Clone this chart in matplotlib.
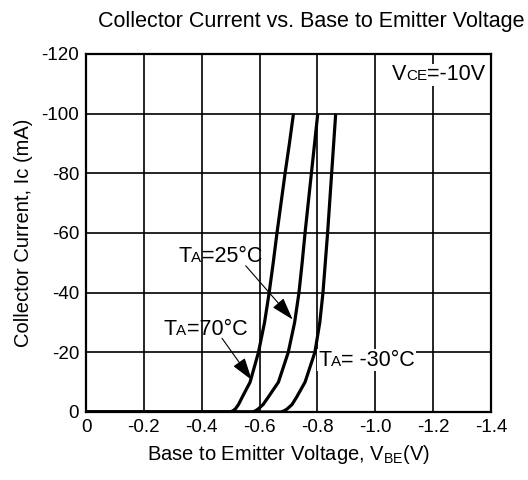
import matplotlib
matplotlib.use('Agg')
import matplotlib.pyplot as plt
from matplotlib.offsetbox import TextArea, HPacker, AnnotationBbox

plt.rcParams['font.family'] = ['Liberation Sans', 'DejaVu Sans']
plt.rcParams['mathtext.fontset'] = 'custom'
plt.rcParams['mathtext.rm'] = 'Liberation Sans'

# data (V_BE in V, Ic in mA)
ic_pts = [0, -0.4, -1, -2.5, -5, -10, -20, -30, -40, -50, -60, -70, -80, -90, -100]
vbe_70 = [-0.498, -0.508, -0.516, -0.527, -0.540, -0.567, -0.596, -0.617, -0.633, -0.647, -0.660, -0.674, -0.688, -0.703, -0.717]
vbe_25 = [-0.576, -0.586, -0.595, -0.612, -0.630, -0.665, -0.699, -0.721, -0.736, -0.747, -0.757, -0.768, -0.779, -0.790, -0.801]
vbe_m30 = [-0.674, -0.685, -0.695, -0.712, -0.728, -0.757, -0.791, -0.808, -0.819, -0.827, -0.835, -0.842, -0.849, -0.856, -0.863]

x_ticks = [0, -0.2, -0.4, -0.6, -0.8, -1.0, -1.2, -1.4]
x_labels = ['0', '-0.2', '-0.4', '-0.6', '-0.8', '-1.0', '-1.2', '-1.4']
y_ticks = [0, -20, -40, -60, -80, -100, -120]
y_labels = ['0', '-20', '-40', '-60', '-80', '-100', '-120']

fig = plt.figure(figsize=(5.28, 4.80), dpi=100)
ax = fig.add_axes([0.163, 0.1417, 0.767, 0.746])

for v in (vbe_70, vbe_25, vbe_m30):
    # flat part along the axis from 0 V, then the rising curve
    ax.plot([0] + v, [0] + ic_pts, color='black', lw=2.3, solid_capstyle='butt',
            solid_joinstyle='round')

ax.set_xlim(0, -1.4)
ax.set_ylim(0, -120)
ax.set_xticks(x_ticks)
ax.set_xticklabels(x_labels)
ax.set_yticks(y_ticks)
ax.set_yticklabels(y_labels)
ax.tick_params(length=0, labelsize=13.5, pad=5)
ax.grid(True, color='black', lw=1.2)
ax.set_axisbelow(True)
for s in ax.spines.values():
    s.set_linewidth(1.6)

ax.set_xlabel('Base to Emitter Voltage, V$_{\\mathrm{BE}}$(V)', fontsize=14.5, labelpad=5)
ax.set_ylabel('Collector Current, Ic (mA)', fontsize=14.5, labelpad=6)
fig.text(0.589, 0.955, 'Collector Current vs. Base to Emitter Voltage', fontsize=15.5,
         ha='center', va='center')


def small_caps_label(main, sub, rest, xy, bg=False):
    parts = [TextArea(main, textprops=dict(fontsize=15.5)),
             TextArea(sub, textprops=dict(fontsize=11)),
             TextArea(rest, textprops=dict(fontsize=15.5))]
    box = HPacker(children=parts, align='baseline', pad=0, sep=0)
    ab = AnnotationBbox(box, xy, xycoords='data', frameon=bg, box_alignment=(0, 0.5),
                        pad=0.05, bboxprops=dict(fc='white', ec='none'))
    ax.add_artist(ab)


small_caps_label('V', 'CE', '=-10V', (-1.057, -113), bg=True)
small_caps_label('T', 'A', '=25°C', (-0.319, -52))
small_caps_label('T', 'A', '=70°C', (-0.267, -27.5))
small_caps_label('T', 'A', '= -30°C', (-0.802, -17.4), bg=True)

arrow = dict(arrowstyle='-|>,head_length=0.7,head_width=0.22', color='black', lw=0.8,
             mutation_scale=20, shrinkA=0, shrinkB=0)
ax.annotate('', xy=(-0.714, -31), xytext=(-0.552, -49), arrowprops=arrow)
ax.annotate('', xy=(-0.573, -10.7), xytext=(-0.470, -24.7), arrowprops=arrow)

fig.savefig('out.png', dpi=100)
